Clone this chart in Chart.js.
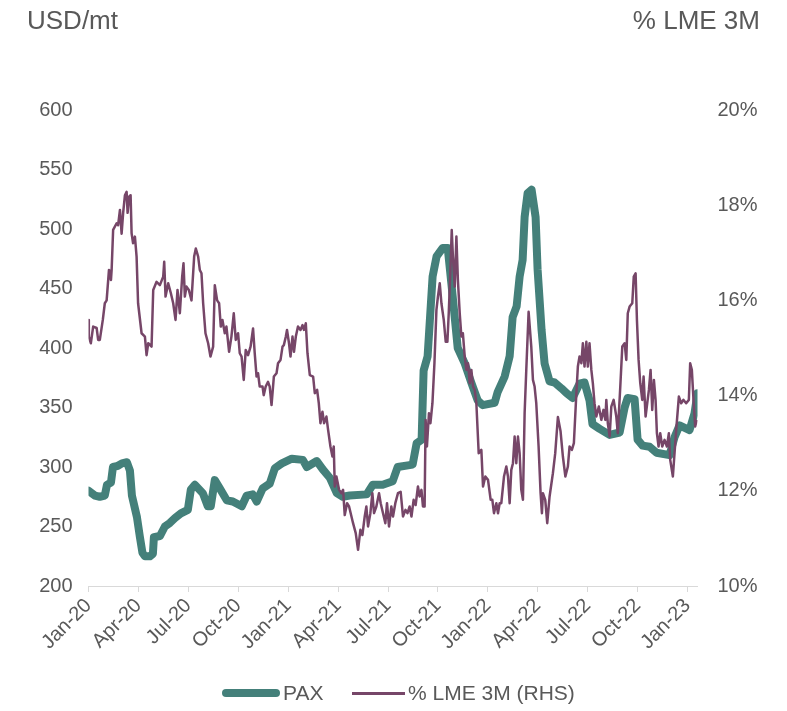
<!DOCTYPE html>
<html>
<head>
<meta charset="utf-8">
<script src="https://cdn.jsdelivr.net/npm/chart.js@4.4.1/dist/chart.umd.min.js"></script>
<style>
  html, body { margin: 0; padding: 0; background: #ffffff; }
  #wrap { position: relative; width: 787px; height: 711px; font-family: "Liberation Sans", Arial, sans-serif; color: #595959; }
  canvas { position: absolute; left: 0; top: 0; }
  .title { position: absolute; top: 5px; font-size: 26px; line-height: 30px; white-space: nowrap; }
  #tl { left: 27px; }
  #tr { right: 27px; }
  #legend { position: absolute; top: 681px; left: 0; width: 787px; height: 24px; font-size: 21px; line-height: 24px; }
  .sw { position: absolute; }
  .lt { position: absolute; top: 0; white-space: nowrap; }
</style>
</head>
<body>
<div id="wrap">
  <canvas id="c" width="787" height="711"></canvas>
  <div class="title" id="tl">USD/mt</div>
  <div class="title" id="tr">% LME 3M</div>
  <div id="legend">
    <div class="sw" style="left:222px;top:8px;width:58px;height:8px;border-radius:4px;background:#44807a;"></div>
    <div class="lt" style="left:283px;">PAX</div>
    <div class="sw" style="left:352px;top:11px;width:53px;height:2.5px;background:#764668;"></div>
    <div class="lt" style="left:408px;">% LME 3M (RHS)</div>
  </div>
</div>
<script>
// x values are months since 1 Jan 2020
const tickLabels = ["Jan-20","Apr-20","Jul-20","Oct-20","Jan-21","Apr-21","Jul-21","Oct-21","Jan-22","Apr-22","Jul-22","Oct-22","Jan-23"];

const paxMonths = [0,0.38,0.68,0.98,1.11,1.35,1.47,1.77,2.01,2.31,2.49,2.61,2.91,3.09,3.24,3.39,3.69,3.87,3.93,4.29,4.59,4.89,5.19,5.55,5.97,6.15,6.39,6.87,7.17,7.35,7.59,7.89,8.31,8.67,9.21,9.51,9.87,10.11,10.47,10.89,11.20,11.62,12.22,12.88,13.12,13.72,14.08,14.50,14.92,15.28,15.70,16.72,17.08,17.68,18.28,18.58,19.48,19.72,20.02,20.14,20.38,20.68,20.92,21.28,21.59,21.89,22.19,22.61,23.03,23.39,23.69,24.41,24.59,25.01,25.31,25.49,25.73,25.91,26.09,26.21,26.39,26.63,26.87,26.99,27.23,27.41,27.71,28.01,28.43,28.73,29.09,29.51,29.81,30.11,30.29,30.72,31.32,31.92,32.22,32.40,32.82,33.00,33.30,33.72,34.14,34.92,35.22,35.52,36.12,36.42,36.60];
const paxValues = [280,276,275,276,285,287,300,301,303,304,297,276,258,241,228,225,225,227,241,242,250,253,257,261,264,281,285,278,267,267,289,282,272,271,267,276,277,271,282,286,299,303,307,306,300,305,298,291,278,275,276,277,285,285,288,300,302,320,323,381,393,460,477,484,484,443,400,387,370,356,352,354,363,376,393,426,435,460,474,510,530,533,510,466,415,387,372,371,366,362,358,370,371,356,336,332,327,329,350,358,357,323,318,317,312,310,325,335,331,345,362];

const lmeMonths = [0,0.02,0.14,0.28,0.49,0.58,0.68,0.86,0.98,1.09,1.23,1.35,1.39,1.48,1.69,1.78,1.89,1.99,2.08,2.19,2.29,2.35,2.44,2.53,2.59,2.68,2.79,2.89,2.98,3.19,3.39,3.49,3.59,3.79,3.89,4.09,4.29,4.49,4.55,4.63,4.79,4.95,5.09,5.23,5.35,5.49,5.63,5.71,5.79,5.89,6.03,6.19,6.35,6.45,6.59,6.69,6.79,6.89,7.03,7.19,7.33,7.49,7.59,7.73,7.85,7.95,8.05,8.19,8.29,8.45,8.59,8.73,8.85,8.99,9.09,9.20,9.33,9.45,9.59,9.74,9.89,9.99,10.10,10.19,10.29,10.46,10.53,10.65,10.79,10.89,11.00,11.14,11.30,11.39,11.54,11.66,11.74,11.86,11.93,12.05,12.14,12.26,12.35,12.46,12.59,12.74,12.86,12.95,13.06,13.16,13.30,13.50,13.60,13.74,13.84,13.94,14.06,14.16,14.30,14.40,14.54,14.66,14.74,14.80,14.90,15.06,15.20,15.30,15.40,15.54,15.66,15.90,16.06,16.20,16.34,16.46,16.60,16.70,16.80,16.94,17.06,17.16,17.30,17.46,17.56,17.70,17.84,17.94,18.06,18.20,18.30,18.44,18.60,18.76,18.90,19.05,19.17,19.30,19.41,19.54,19.66,19.80,19.90,20.01,20.10,20.20,20.26,20.34,20.46,20.55,20.67,20.79,20.91,21.00,21.11,21.21,21.35,21.47,21.57,21.65,21.75,21.83,21.90,22.01,22.11,22.20,22.31,22.41,22.50,22.61,22.71,22.81,22.91,23.01,23.11,23.21,23.31,23.45,23.61,23.71,23.85,24.01,24.17,24.27,24.37,24.51,24.61,24.71,24.81,24.97,25.11,25.21,25.31,25.41,25.51,25.61,25.71,25.81,25.91,26.01,26.11,26.21,26.31,26.45,26.61,26.71,26.81,26.91,27.05,27.17,27.25,27.31,27.45,27.57,27.71,27.91,28.05,28.21,28.37,28.51,28.66,28.81,28.91,29.05,29.17,29.32,29.41,29.51,29.62,29.71,29.81,29.92,30.01,30.11,30.22,30.31,30.41,30.52,30.67,30.82,30.95,31.06,31.12,31.21,31.32,31.42,31.56,31.72,31.81,31.96,32.08,32.22,32.32,32.41,32.52,32.68,32.77,32.88,32.96,33.06,33.16,33.28,33.36,33.48,33.58,33.68,33.78,33.88,33.98,34.08,34.16,34.26,34.36,34.48,34.62,34.76,34.88,34.96,35.12,35.22,35.32,35.48,35.62,35.75,35.92,36.08,36.16,36.26,36.36,36.46,36.56];
const lmeValues = [15.59,15.24,15.10,15.45,15.42,15.17,15.17,15.59,15.94,16.00,16.64,16.43,16.64,17.48,17.62,17.58,17.90,17.40,17.83,18.21,18.28,17.84,18.18,18.21,17.41,17.20,17.34,16.92,15.94,15.31,15.24,14.85,15.10,15.03,16.22,16.39,16.32,16.50,16.81,16.08,16.36,16.15,15.94,15.59,16.22,15.73,16.50,16.78,16.08,16.29,16.22,16.00,16.92,17.09,16.92,16.64,16.57,15.94,15.31,15.10,14.82,15.03,16.32,16.00,15.94,15.45,15.59,15.31,15.45,14.92,15.24,15.73,15.17,15.31,14.89,14.82,14.33,14.96,14.85,15.03,15.41,14.89,14.40,14.47,14.19,14.19,14.01,14.19,14.29,14.19,13.80,14.40,14.47,14.68,14.75,15.03,15.06,15.24,15.38,15.10,14.82,15.24,14.92,15.24,15.45,15.38,15.48,15.38,15.52,14.89,14.43,14.40,14.05,14.12,13.84,13.42,13.66,13.42,13.56,13.28,12.93,12.72,12.93,12.09,12.30,12.02,11.95,12.02,11.49,11.74,11.67,11.32,11.11,10.76,11.18,11.07,11.46,11.67,11.25,11.53,11.95,11.53,11.67,11.95,11.74,11.53,11.32,11.74,11.25,11.67,11.46,11.74,11.95,11.98,11.46,11.60,11.53,11.67,11.46,11.81,11.70,12.09,11.88,12.02,11.67,11.67,13.49,12.93,13.63,13.42,13.84,14.68,15.80,16.08,16.36,15.94,15.59,15.13,15.13,15.73,16.64,17.48,16.92,16.29,17.34,16.43,15.73,15.24,15.31,14.82,14.54,14.68,14.26,14.54,14.19,14.12,13.84,12.79,12.86,12.09,12.30,12.23,11.81,11.81,11.53,11.74,11.53,11.74,11.74,12.30,12.51,12.30,11.74,12.44,12.58,13.14,12.58,13.14,12.79,12.02,11.81,13.63,14.54,15.76,15.03,14.33,14.19,13.84,12.93,11.95,11.53,11.95,11.81,11.32,11.88,12.37,12.79,13.55,13.25,12.72,12.30,12.51,12.93,12.86,13.00,14.05,14.61,14.82,14.68,15.10,14.61,15.13,14.61,15.10,14.54,14.26,13.84,13.56,13.77,13.49,13.70,13.49,13.91,13.42,13.14,13.77,13.91,13.56,13.21,14.19,15.03,15.10,14.75,15.73,15.87,15.94,16.50,16.57,15.59,14.75,14.26,13.91,14.40,13.56,13.84,14.12,14.54,13.70,14.33,13.91,13.21,12.93,13.21,12.93,13.07,12.93,13.21,12.65,12.30,12.79,13.28,13.98,13.84,13.91,13.84,13.91,14.68,14.54,13.91,13.35,13.49];

const leftTicks = [200, 250, 300, 350, 400, 450, 500, 550, 600];
const rightTicks = [10, 12, 14, 16, 18, 20];

const toPoints = (xs, ys) => xs.map((x, i) => ({ x: x, y: ys[i] }));

const grey = '#595959';
const tickFont = { family: '"Liberation Sans", Arial, sans-serif', size: 20 };

new Chart(document.getElementById('c'), {
  type: 'line',
  data: {
    datasets: [
      {
        label: '% LME 3M (RHS)',
        data: toPoints(lmeMonths, lmeValues),
        yAxisID: 'y1',
        borderColor: '#764668',
        borderWidth: 2.5,
        pointRadius: 0,
        tension: 0,
        borderJoinStyle: 'round',
        order: 0
      },
      {
        label: 'PAX',
        data: toPoints(paxMonths, paxValues),
        yAxisID: 'y',
        borderColor: '#44807a',
        borderWidth: 8,
        pointRadius: 0,
        tension: 0,
        borderJoinStyle: 'round',
        borderCapStyle: 'round',
        order: 1
      }
    ]
  },
  options: {
    responsive: false,
    animation: false,
    devicePixelRatio: 1,
    layout: { padding: { top: 110, left: 0, right: 0, bottom: 0 } },
    plugins: { legend: { display: false }, tooltip: { enabled: false } },
    scales: {
      x: {
        type: 'linear',
        min: 0,
        max: 36.6,
        afterFit: s => { s.height = 125; },
        afterBuildTicks: s => { s.ticks = tickLabels.map((t, i) => ({ value: i * 3 })); },
        ticks: {
          autoSkip: false,
          maxRotation: 45,
          minRotation: 45,
          padding: 2,
          color: grey,
          font: tickFont,
          callback: v => tickLabels[Math.round(v / 3)]
        },
        grid: { display: true, drawOnChartArea: false, drawTicks: true, tickLength: 6, color: '#d9d9d9' },
        border: { display: true, color: '#d9d9d9', width: 1 }
      },
      y: {
        position: 'left',
        min: 200,
        max: 600,
        afterFit: s => { s.width = 88.5; },
        afterBuildTicks: s => { s.ticks = leftTicks.map(v => ({ value: v })); },
        ticks: { color: grey, font: tickFont, padding: 16 },
        grid: { display: false, drawTicks: false },
        border: { display: false }
      },
      y1: {
        position: 'right',
        min: 10,
        max: 20,
        afterFit: s => { s.width = 89.5; },
        afterBuildTicks: s => { s.ticks = rightTicks.map(v => ({ value: v })); },
        ticks: { color: grey, font: tickFont, padding: 20, callback: v => v + '%' },
        grid: { display: false, drawTicks: false },
        border: { display: false }
      }
    }
  }
});
</script>
</body>
</html>
